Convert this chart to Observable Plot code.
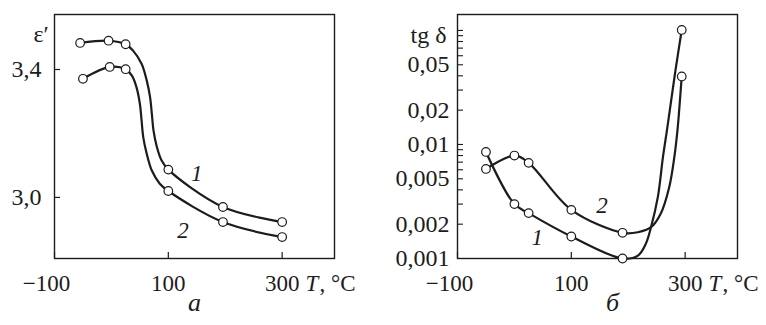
<!DOCTYPE html>
<html><head><meta charset="utf-8">
<script src="https://cdn.jsdelivr.net/npm/d3@7"></script>
<script src="https://cdn.jsdelivr.net/npm/@observablehq/plot@0.6"></script>
<style>
body{margin:0;background:#fff;}
#wrap{display:flex;width:766px;height:325px;overflow:hidden;}
svg, svg text{font-family:"Liberation Serif", serif !important;}
</style></head><body><div id="wrap"></div>
<script>
// ---------- data: panel a (ε′ vs T) ----------
const tA1 = [-55, -5, 25, 100, 196, 300];
const epsA1 = [3.483, 3.490, 3.479, 3.087, 2.970, 2.923];
const tA2 = [-50, -3, 25, 100, 196, 300];
const epsA2 = [3.371, 3.408, 3.401, 3.020, 2.923, 2.876];
// points (between markers)
const tA1line = [38, 53, 62, 68, 71, 74, 80, 88];
const epsA1line = [3.459, 3.418, 3.366, 3.313, 3.262, 3.209, 3.157, 3.116];
const tA2line = [36, 44, 50, 53, 56, 62, 71, 85];
const epsA2line = [3.381, 3.345, 3.293, 3.241, 3.188, 3.137, 3.084, 3.043];

// ---------- data: panel б (tg δ vs T) ----------
const tB1 = [-50, 0, 25, 100, 190, 294];
const tgB1 = [0.0086, 0.0030, 0.0025, 0.00156, 0.001, 0.101];
const tB2 = [-50, 0, 25, 100, 190, 294];
const tgB2 = [0.0061, 0.0080, 0.0069, 0.00267, 0.00168, 0.0395];
const tB1line = [217, 231, 240, 252, 261, 268, 273, 283];
const tgB1line = [0.00106, 0.00135, 0.00188, 0.00345, 0.00774, 0.0133, 0.0199, 0.0446];
const tB2line = [217, 240, 257, 272, 281, 286.5, 289.5];
const tgB2line = [0.0017, 0.00188, 0.00247, 0.00422, 0.00774, 0.0133, 0.0199];

// ---------- ticks & labels ----------
const xTicks = [-100, 100, 300];
const xTickLabels = ["−100", "100", "300"];
const epsTicks = [3.0, 3.4];
const epsTickLabels = ["3,0", "3,4"];
const tgTicks = [0.001, 0.002, 0.005, 0.01, 0.02, 0.05];
const tgTickLabels = ["0,001", "0,002", "0,005", "0,01", "0,02", "0,05"];
const tgMinorTicks = [0.002,0.003,0.004,0.005,0.006,0.007,0.008,0.009,0.01,0.02,0.03,0.04,0.05,0.06,0.07,0.08,0.09,0.1];
const curveNames = ["1", "2"];
const labelAT = [150, 126], labelAV = [3.075, 2.897];
const labelBT = [40, 154], labelBV = [0.00153, 0.00292];

// ---------- build tables ----------
const pts = (T, V) => T.map((t, i) => ({T: t, v: V[i]}));
const lineOf = (T, V, LT, LV) => [...pts(T, V), ...pts(LT, LV)].sort((a, b) => a.T - b.T);
const ticksOf = (T, L) => T.map((t, i) => ({t, label: L[i]}));

const font = "Liberation Serif";
const FS = 24;
const FSX = 23;
const INK = "#1c1c1c";
const FRAMEW = 280;

function common(marginLeft, marginRight) {
  return {
    width: 383, height: 325, marginLeft, marginRight, marginTop: 14, marginBottom: 67,
    style: {fontSize: FS + "px", background: "white", color: INK, overflow: "visible"},
    x: {domain: [-100, 392]},
    axis: null
  };
}
const T = (data, opts) => Plot.text(data, {fontSize: FS, fontFamily: font, fill: INK, ...opts});
function xAxisMarks() {
  const xt = ticksOf(xTicks, xTickLabels);
  return [
    T(xt.slice(0, 1), {x: "t", text: "label", frameAnchor: "bottom", dy: 25, dx: -8, lineAnchor: "middle", fontSize: FSX}),
    T(xt.slice(1), {x: "t", text: "label", frameAnchor: "bottom", dy: 25, lineAnchor: "middle", fontSize: FSX}),
    Plot.ruleX(xTicks, {x: d => d, insetTop: 244 - 6, stroke: INK, strokeWidth: 1.2}),
    T(["T"], {frameAnchor: "bottom-right", dx: -29, dy: 25, textAnchor: "start", lineAnchor: "middle", fontStyle: "italic", fontSize: FSX}),
    T([", °C"], {frameAnchor: "bottom-right", dx: -15, dy: 25, textAnchor: "start", lineAnchor: "middle", fontSize: FSX})
  ];
}
function curveMarks(line1, line2, p1, p2) {
  return [
    Plot.line(line1, {x: "T", y: "v", curve: "catmull-rom", stroke: INK, strokeWidth: 2.2}),
    Plot.line(line2, {x: "T", y: "v", curve: "catmull-rom", stroke: INK, strokeWidth: 2.2}),
    Plot.dot(p1, {x: "T", y: "v", r: 4.3, fill: "white", stroke: INK, strokeWidth: 1.2}),
    Plot.dot(p2, {x: "T", y: "v", r: 4.3, fill: "white", stroke: INK, strokeWidth: 1.2})
  ];
}

// ---------- panel a ----------
const plotA = Plot.plot({
  ...common(54, 49),
  y: {domain: [2.809, 3.572]},
  marks: [
    Plot.frame({stroke: INK, strokeWidth: 1.4}),
    ...xAxisMarks(),
    T(ticksOf(epsTicks, epsTickLabels), {y: "t", text: "label", frameAnchor: "left", dx: -13, textAnchor: "end"}),
    Plot.ruleY(epsTicks, {y: d => d, insetRight: FRAMEW - 6, stroke: INK, strokeWidth: 1.2}),
    ...curveMarks(lineOf(tA1, epsA1, tA1line, epsA1line), lineOf(tA2, epsA2, tA2line, epsA2line), pts(tA1, epsA1), pts(tA2, epsA2)),
    T(curveNames, {x: (d, i) => labelAT[i], y: (d, i) => labelAV[i], text: d => d, fontStyle: "italic", fontSize: 23}),
    T(["ε′"], {frameAnchor: "top-left", dx: -21, dy: 10}),
    T(["а"], {frameAnchor: "bottom", dy: 52, fontStyle: "italic", fontSize: 26})
  ]
});

// ---------- panel б ----------
const plotB = Plot.plot({
  ...common(74, 29),
  y: {type: "log", domain: [0.001, 0.138]},
  marks: [
    Plot.frame({stroke: INK, strokeWidth: 1.4}),
    ...xAxisMarks(),
    T(ticksOf(tgTicks, tgTickLabels), {y: "t", text: "label", frameAnchor: "left", dx: -8, textAnchor: "end"}),
    Plot.ruleY(tgMinorTicks, {y: d => d, insetRight: FRAMEW - 6, stroke: INK, strokeWidth: 1.1}),
    ...curveMarks(lineOf(tB1, tgB1, tB1line, tgB1line), lineOf(tB2, tgB2, tB2line, tgB2line), pts(tB1, tgB1), pts(tB2, tgB2)),
    T(curveNames, {x: (d, i) => labelBT[i], y: (d, i) => labelBV[i], text: d => d, fontStyle: "italic", fontSize: 23}),
    T(["tg δ"], {frameAnchor: "top-left", dx: -11, dy: 11, textAnchor: "end"}),
    T(["б"], {frameAnchor: "bottom", dx: 15, dy: 52, fontStyle: "italic", fontSize: 26})
  ]
});

document.getElementById("wrap").append(plotA, plotB);
</script>
</body></html>
